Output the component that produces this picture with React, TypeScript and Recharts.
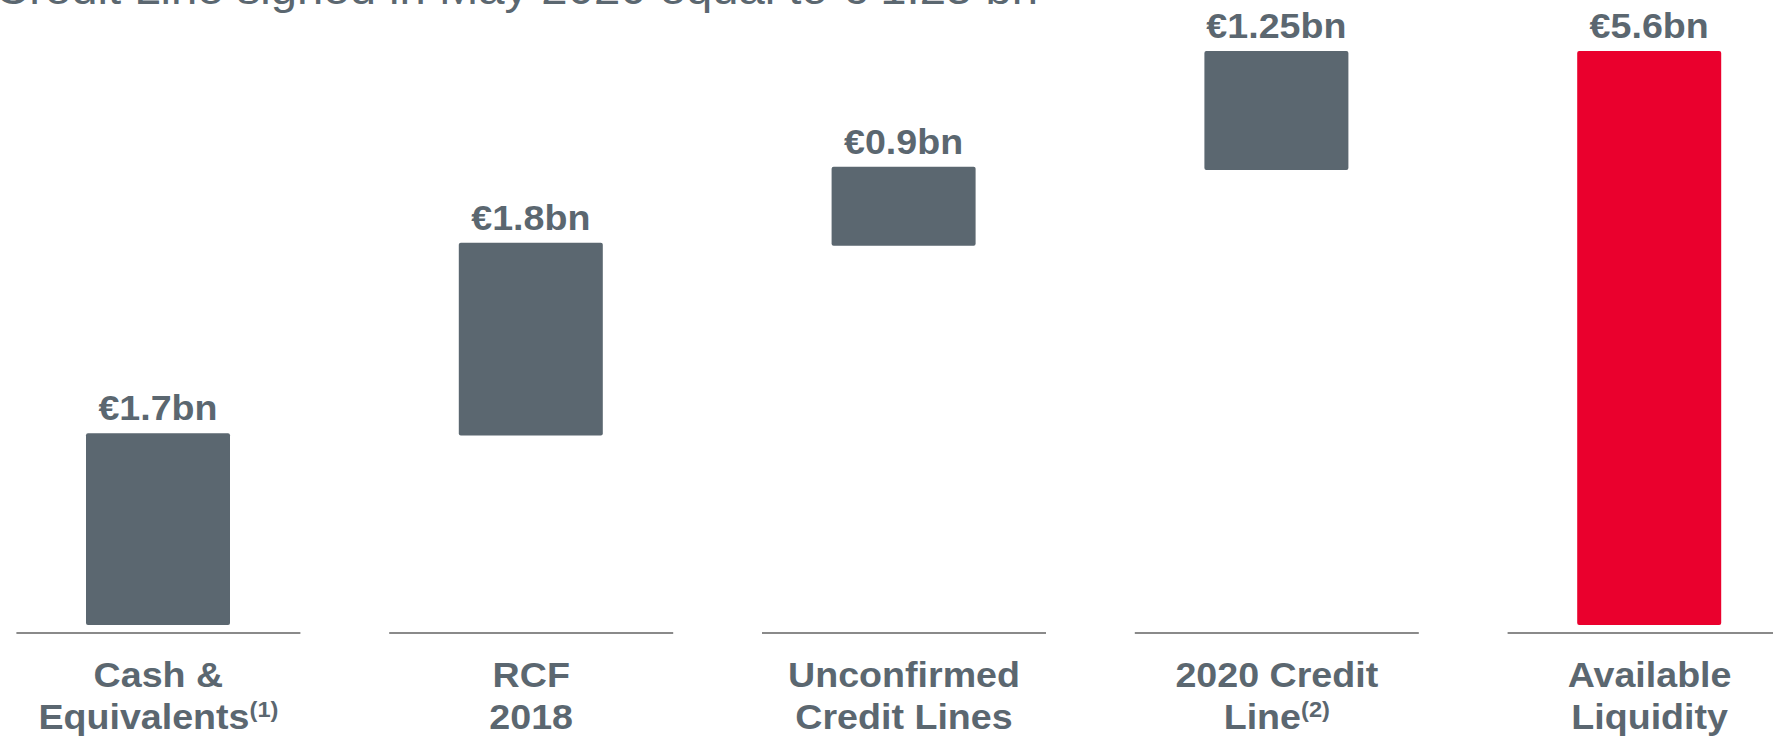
import React from "react";
import { BarChart, Bar, XAxis, YAxis, Cell, LabelList } from "recharts";

// Category names and their two-line tick labels
const categories = ["Cash & Equivalents", "RCF 2018", "Unconfirmed Credit Lines", "2020 Credit Line", "Available Liquidity"];
const labelLine1 = ["Cash &", "RCF", "Unconfirmed", "2020 Credit", "Available"];
const labelLine2 = ["Equivalents", "2018", "Credit Lines", "Line", "Liquidity"];
const footnotes = ["(1)", "", "", "(2)", ""];

// Waterfall segments as drawn (bottom / top, in €bn)
const barLow = [0, 1.85, 3.7, 4.44, 0];
const barHigh = [1.87, 3.73, 4.47, 5.6, 5.6];
const valueLabels = ["€1.7bn", "€1.8bn", "€0.9bn", "€1.25bn", "€5.6bn"];
const isTotal = [false, false, false, false, true];

const titleText = "Credit Line signed in May 2020 equal to € 1.25 bn";

const GREY = "#5B6770";
const RED = "#EA002D";
const FONT = "'Liberation Sans', Arial, Helvetica, sans-serif";
const STRETCH = 1.075;

const data = categories.map((c, i) => ({
  name: c,
  idx: i,
  range: [barLow[i], barHigh[i]],
  label: valueLabels[i],
  total: isTotal[i],
}));

const CategoryTick = (props: any) => {
  const { x, y, index } = props;
  const i = typeof index === "number" ? index : categories.indexOf(props.payload?.value);
  return (
    <g>
      <line x1={x - 142} x2={x + 142} y1={y + 8} y2={y + 8} stroke="#8A8A8A" strokeWidth={2} />
      <g transform={`translate(${x},0) scale(${STRETCH},1)`}>
        <text textAnchor="middle" fill={GREY} fontFamily={FONT} fontWeight="bold" fontSize={35}>
          <tspan x={0} y={y + 62}>{labelLine1[i]}</tspan>
        </text>
        <text textAnchor="middle" fill={GREY} fontFamily={FONT} fontWeight="bold" fontSize={35}>
          <tspan x={0} y={y + 104}>{labelLine2[i]}</tspan>
          {footnotes[i] ? (
            <tspan fontSize={22} dy={-12}>{footnotes[i]}</tspan>
          ) : null}
        </text>
      </g>
    </g>
  );
};

const ValueLabel = (props: any) => {
  const { x, y, width, value } = props;
  return (
    <g transform={`translate(${x + width / 2},0) scale(${STRETCH},1)`}>
      <text
        x={0}
        y={y - 13}
        textAnchor="middle"
        fill={GREY}
        fontFamily={FONT}
        fontWeight="bold"
        fontSize={35}
      >
        {value}
      </text>
    </g>
  );
};

export default function App() {
  return (
    <div
      style={{
        position: "absolute",
        left: 0,
        top: 0,
        width: 1773,
        height: 742,
        overflow: "hidden",
        background: "#ffffff",
      }}
    >
      <svg
        width={1773}
        height={60}
        style={{ position: "absolute", left: 0, top: 0, zIndex: 2 }}
      >
        <text
          x={-5}
          y={4}
          fill={GREY}
          fontFamily={FONT}
          fontSize={44}
          textLength={1043}
          lengthAdjust="spacingAndGlyphs"
        >
          {titleText}
        </text>
      </svg>
      <div style={{ position: "absolute", left: -28, top: 0 }}>
        <BarChart
          width={1864}
          height={742}
          data={data}
          margin={{ top: 51, right: 0, bottom: 0, left: 0 }}
          barSize={144}
        >
          <YAxis hide domain={[0, 5.6]} type="number" allowDataOverflow />
          <XAxis
            dataKey="name"
            height={117}
            axisLine={false}
            tickLine={false}
            tickSize={0}
            tickMargin={0}
            interval={0}
            tick={<CategoryTick />}
          />
          <Bar dataKey="range" isAnimationActive={false} radius={2}>
            {data.map((d, i) => (
              <Cell key={i} fill={d.total ? RED : GREY} />
            ))}
            <LabelList dataKey="label" content={<ValueLabel />} />
          </Bar>
        </BarChart>
      </div>
    </div>
  );
}
